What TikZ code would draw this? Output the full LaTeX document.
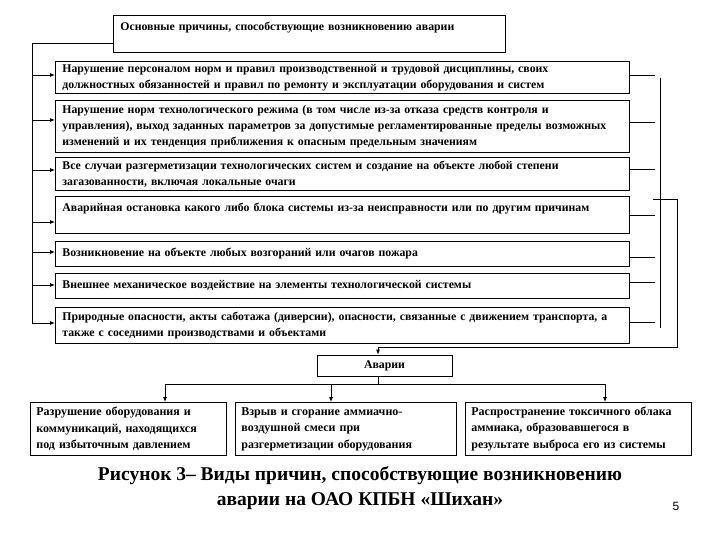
\documentclass[tikz,border=0pt]{standalone}
\usepackage{fontspec}
\setmainfont{Liberation Serif}
\setsansfont{Liberation Sans}
\usetikzlibrary{arrows.meta, positioning, calc}

\begin{document}
\begin{tikzpicture}[x=1pt,y=-1pt,
    line width=0.8pt,
    arr/.style={-{Latex[length=5pt,width=4pt]}},
    cause/.style={rectangle,draw,anchor=north west,minimum width=574pt,text width=560pt,
        align=left,inner xsep=7pt,inner ysep=1pt,font=\fontsize{11.8}{16}\selectfont\bfseries},
    result/.style={rectangle,draw,anchor=north west,minimum height=53pt,
        align=left,inner xsep=6pt,inner ysep=1pt,font=\fontsize{12}{16.5}\selectfont\bfseries}]
    \useasboundingbox (0,0) rectangle (720,540);

    % Основной блок
    \node[rectangle,draw,anchor=north west,minimum width=392pt,minimum height=37pt,
        text width=378pt,align=left,inner xsep=7pt,inner ysep=2pt,
        font=\fontsize{11.8}{16}\selectfont\bfseries] (main) at (113,15)
        {Основные причины, способствующие возникновению аварии\\~};

    % Причины
    \node[cause,minimum height=32pt] (r1) at (55,61)
        {Нарушение персоналом норм и правил производственной и трудовой дисциплины, своих\\
         должностных обязанностей и правил по ремонту и эксплуатации оборудования и систем};
    \node[cause,minimum height=52pt] (r2) at (55,100)
        {Нарушение норм технологического режима (в том числе из-за отказа средств контроля и\\
         управления), выход заданных параметров за допустимые регламентированные пределы возможных\\
         изменений и их тенденция приближения к опасным предельным значениям};
    \node[cause,minimum height=33pt] (r3) at (55,157)
        {Все случаи разгерметизации технологических систем и создание на объекте любой степени\\
         загазованности, включая локальные очаги};
    \node[cause,minimum height=37pt] (r4) at (55,196)
        {Аварийная остановка какого либо блока системы из-за неисправности или по другим причинам\\~};
    \node[cause,minimum height=25pt] (r5) at (55,241)
        {Возникновение на объекте любых возгораний или очагов пожара};
    \node[cause,minimum height=25pt] (r6) at (55,273)
        {Внешнее механическое воздействие на элементы технологической системы};
    \node[cause,minimum height=36pt] (r7) at (55,307)
        {Природные опасности, акты саботажа (диверсии), опасности, связанные с движением транспорта, а\\
         также с соседними производствами и объектами};

    % Левая шина
    \coordinate (tl) at (32,43);
    \coordinate (bl) at (32,323);
    \draw (tl -| main.west) -- (tl) -- (bl);
    \foreach \n/\y in {r1/75,r2/120,r3/170,r4/222,r5/252,r6/285,r7/323}{
        \coordinate (a) at (32,\y);
        \draw[arr] (a) -- (a -| \n.west);
    }

    % Правая шина
    \foreach \n/\y in {r1/75,r2/122,r3/169,r4/215,r5/257,r6/282,r7/322}{
        \coordinate (b) at (655,\y);
        \draw (b -| \n.east) -- (b);
    }
    \draw (660,78) -- (660,328);

    % Аварии
    \node[rectangle,draw,minimum width=135pt,minimum height=21pt,
        font=\fontsize{11.8}{14}\selectfont\bfseries] (acc) at (384.5,365.5) {Аварии};
    \coordinate (jn) at (378,347);
    \draw[arr] (653,199) -- (677,199) |- (jn) -- (jn |- acc.north);

    % Последствия
    \node[result,minimum width=196pt,text width=184pt] (b1) at (30,402)
        {Разрушение оборудования и\\коммуникаций, находящихся\\под избыточным давлением};
    \node[result,minimum width=221pt,text width=209pt] (b2) at (235,402)
        {Взрыв и сгорание аммиачно-\\воздушной смеси при\\разгерметизации оборудования};
    \node[result,minimum width=226pt,text width=214pt] (b3) at (465,402)
        {Распространение токсичного облака\\аммиака, образовавшегося в\\результате выброса его из системы};

    \coordinate (bs) at (378,384);
    \draw (acc.south -| bs) -- (bs);
    \draw (165,384) -- (605,384);
    \foreach \n/\x in {b1/165,b2/331,b3/605}{
        \coordinate (c) at (\x,384);
        \draw[arr] (c) -- (c |- \n.north);
    }

    % Подпись
    \node[font=\fontsize{19.5}{25}\selectfont\bfseries,align=center] (cap) at (360,488)
        {Рисунок 3– Виды причин, способствующие возникновению\\аварии на ОАО КПБН «Шихан»};
    \node[font=\sffamily\fontsize{12}{14}\selectfont] (num) at (676,506) {5};
\end{tikzpicture}
\end{document}
